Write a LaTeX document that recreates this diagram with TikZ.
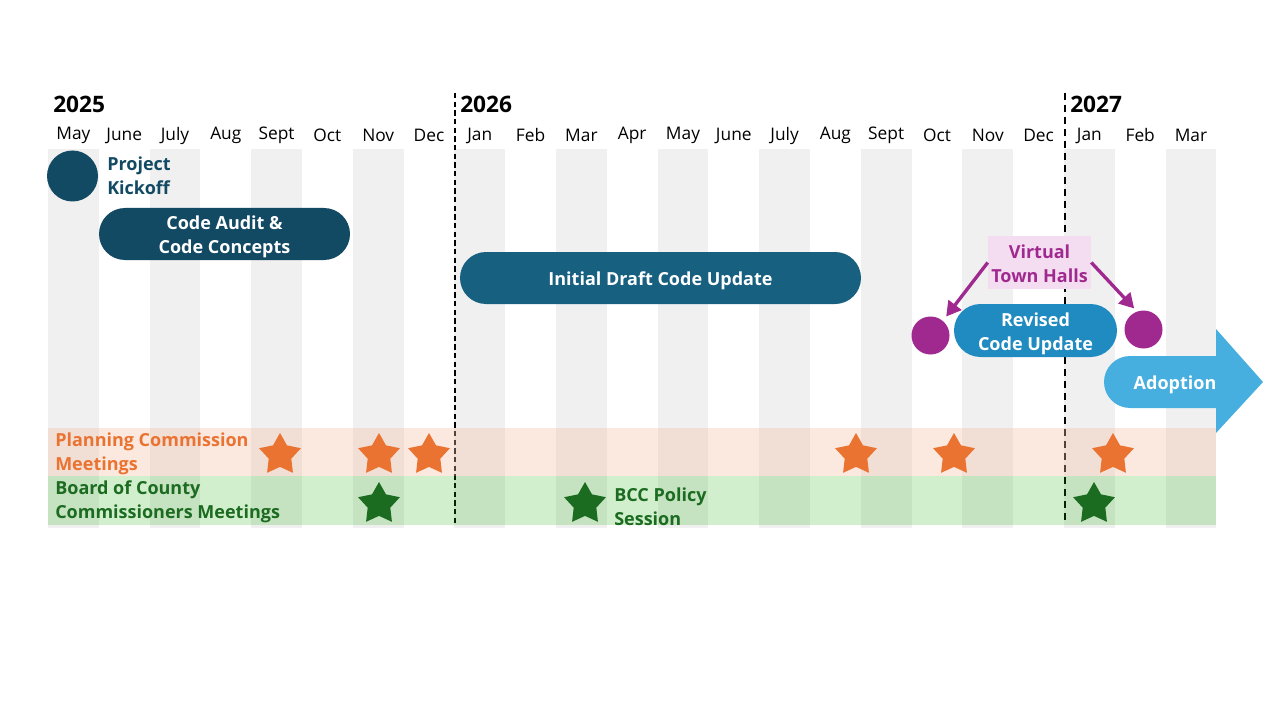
\documentclass[tikz,border=0pt]{standalone}
\usepackage{fontspec}
\setmainfont{Open Sans}
\usetikzlibrary{shapes.geometric,shapes.misc,arrows.meta}
\definecolor{cNavy}{RGB}{18,73,99}
\definecolor{cMid}{RGB}{23,96,128}
\definecolor{cRev}{RGB}{32,139,192}
\definecolor{cAdopt}{RGB}{70,175,223}
\definecolor{cPurple}{RGB}{160,41,143}
\definecolor{cPink}{RGB}{245,221,241}
\definecolor{cOrange}{RGB}{235,115,49}
\definecolor{cGreen}{RGB}{27,107,33}
\definecolor{cStripe}{RGB}{240,240,240}
\definecolor{cOBand}{RGB}{244,189,161}
\definecolor{cGBand}{RGB}{25,175,0}
\newcommand{\lowered}[1]{\raisebox{-2.2pt}[\height][\depth]{#1}}
\newcommand{\twolines}[2]{\lowered{\begin{tabular}{@{}c@{}}#1\\#2\end{tabular}}}
\tikzset{
  month/.style={font=\fontsize{13}{16}\selectfont, text=black, inner sep=0pt},
  year/.style={font=\fontsize{17}{20}\selectfont\bfseries, text=black, inner sep=0pt, anchor=west},
  pill/.style={rounded rectangle, inner sep=0pt, text=white, align=center,
    font=\fontsize{13.5}{18}\selectfont\bfseries},
  lbl/.style={inner sep=0pt, align=left, anchor=west, font=\fontsize{13.5}{18}\selectfont\bfseries},
  dot/.style={circle, inner sep=0pt},
  starmark/.style={star, star points=5, star point ratio=1.85, inner sep=0pt, minimum size=44*0.75pt},
  yearline/.style={black, line width=1.2pt, dash pattern=on 4pt off 2.5pt},
  yearlinethin/.style={black, line width=0.8pt, dash pattern=on 5pt off 4pt},
  tharrow/.style={cPurple, line width=2.5pt, -{Triangle[length=11pt,width=12pt]}}
}
\begin{document}
\begin{tikzpicture}[x=0.75pt,y=-0.75pt]
\useasboundingbox (0,0) rectangle (1280,720);
% stripes
\foreach \i in {0,2,...,22}
  \fill[cStripe] ({48+\i*50.8},149) rectangle ({48+(\i+1)*50.8},528);
% months
\foreach \m [count=\i from 0] in {May,June,July,Aug,Sept,Oct,Nov,Dec,Jan,Feb,Mar,Apr,May,June,July,Aug,Sept,Oct,Nov,Dec,Jan,Feb,Mar}
  \node[month] (m\i) at ({48+(\i+0.5)*50.8},135.5) {\m};
% years
\node[year] (y2025) at (53,104) {2025};
\node[year] (y2026) at (460,104) {2026};
\node[year] (y2027) at (1070,104) {2027};
% dashed year lines
\coordinate (d1t) at (455,93);
\coordinate (d1b) at (455,523);
\coordinate (d2t) at (1065,93);
\coordinate (d2b) at (1065,523);
\draw[yearline] (d1t) -- (d1b);
\draw[yearlinethin] (d2t) -- (d2b);
% bands
\fill[cOBand, opacity=0.35] (48,428) rectangle (1216,476);
\fill[cGBand, opacity=0.2] (48,476) rectangle (1216,525);
% kickoff
\node[dot, fill=cNavy, minimum size=51*0.75pt] (kick) at (72.5,176) {};
\node[lbl, text=cNavy] (kicktxt) at (107,176) {Project\\Kickoff};
% bars
\node[pill, fill=cNavy, minimum width=251*0.75pt, minimum height=52*0.75pt] (audit) at (224.5,234) {\twolines{Code Audit \&}{Code Concepts}};
\node[pill, fill=cMid, minimum width=401*0.75pt, minimum height=52*0.75pt] (draft) at (660.5,278) {\lowered{Initial Draft Code Update}};
\node[pill, fill=cRev, minimum width=163*0.75pt, minimum height=53*0.75pt] (revised) at (1035.5,330.5) {\twolines{Revised}{Code Update}};
% town halls
\node[fill=cPink, text=cPurple, inner sep=0pt, minimum width=103*0.75pt, minimum height=53*0.75pt, align=center,
  font=\fontsize{13.5}{18}\selectfont\bfseries] (vth) at (1039.5,262.5) {\twolines{Virtual}{Town Halls}};
\node[dot, fill=cPurple, minimum size=38*0.75pt] (th1) at (930.5,335.5) {};
\node[dot, fill=cPurple, minimum size=38*0.75pt] (th2) at (1143.5,329.5) {};
\draw[tharrow, shorten >=4pt] (vth.west) -- (th1.50);
\draw[tharrow, shorten >=3pt] (vth.east) -- (th2.110);
% adoption arrow
\node[rounded rectangle, rounded rectangle right arc=none, fill=cAdopt, inner sep=0pt,
  minimum width=120*0.75pt, minimum height=52*0.75pt] (adoptbody) at (1164,382) {};
\coordinate (ah1) at (1216,329);
\coordinate (ah2) at (1263,382);
\coordinate (ah3) at (1216,433);
\fill[cAdopt] (ah1) -- (ah2) -- (ah3) -- cycle;
\node[inner sep=0pt, text=white, font=\fontsize{13.5}{18}\selectfont\bfseries] (adopttxt) at (1175,384.5) {Adoption};
% band labels
\node[lbl, text=cOrange] (pctxt) at (55,453.5) {Planning Commission\\Meetings};
\node[lbl, text=cGreen] (bcctxt) at (55,501.5) {Board of County\\Commissioners Meetings};
\node[lbl, text=cGreen] (bccpol) at (614,506.5) {BCC Policy\\Session};
% stars
\foreach \x [count=\k] in {280,379,429,856,954,1113}
  \node[starmark, fill=cOrange] (ps\k) at (\x,455) {};
\foreach \x [count=\k] in {379,585,1094}
  \node[starmark, fill=cGreen] (bs\k) at (\x,504) {};
\end{tikzpicture}
\end{document}
